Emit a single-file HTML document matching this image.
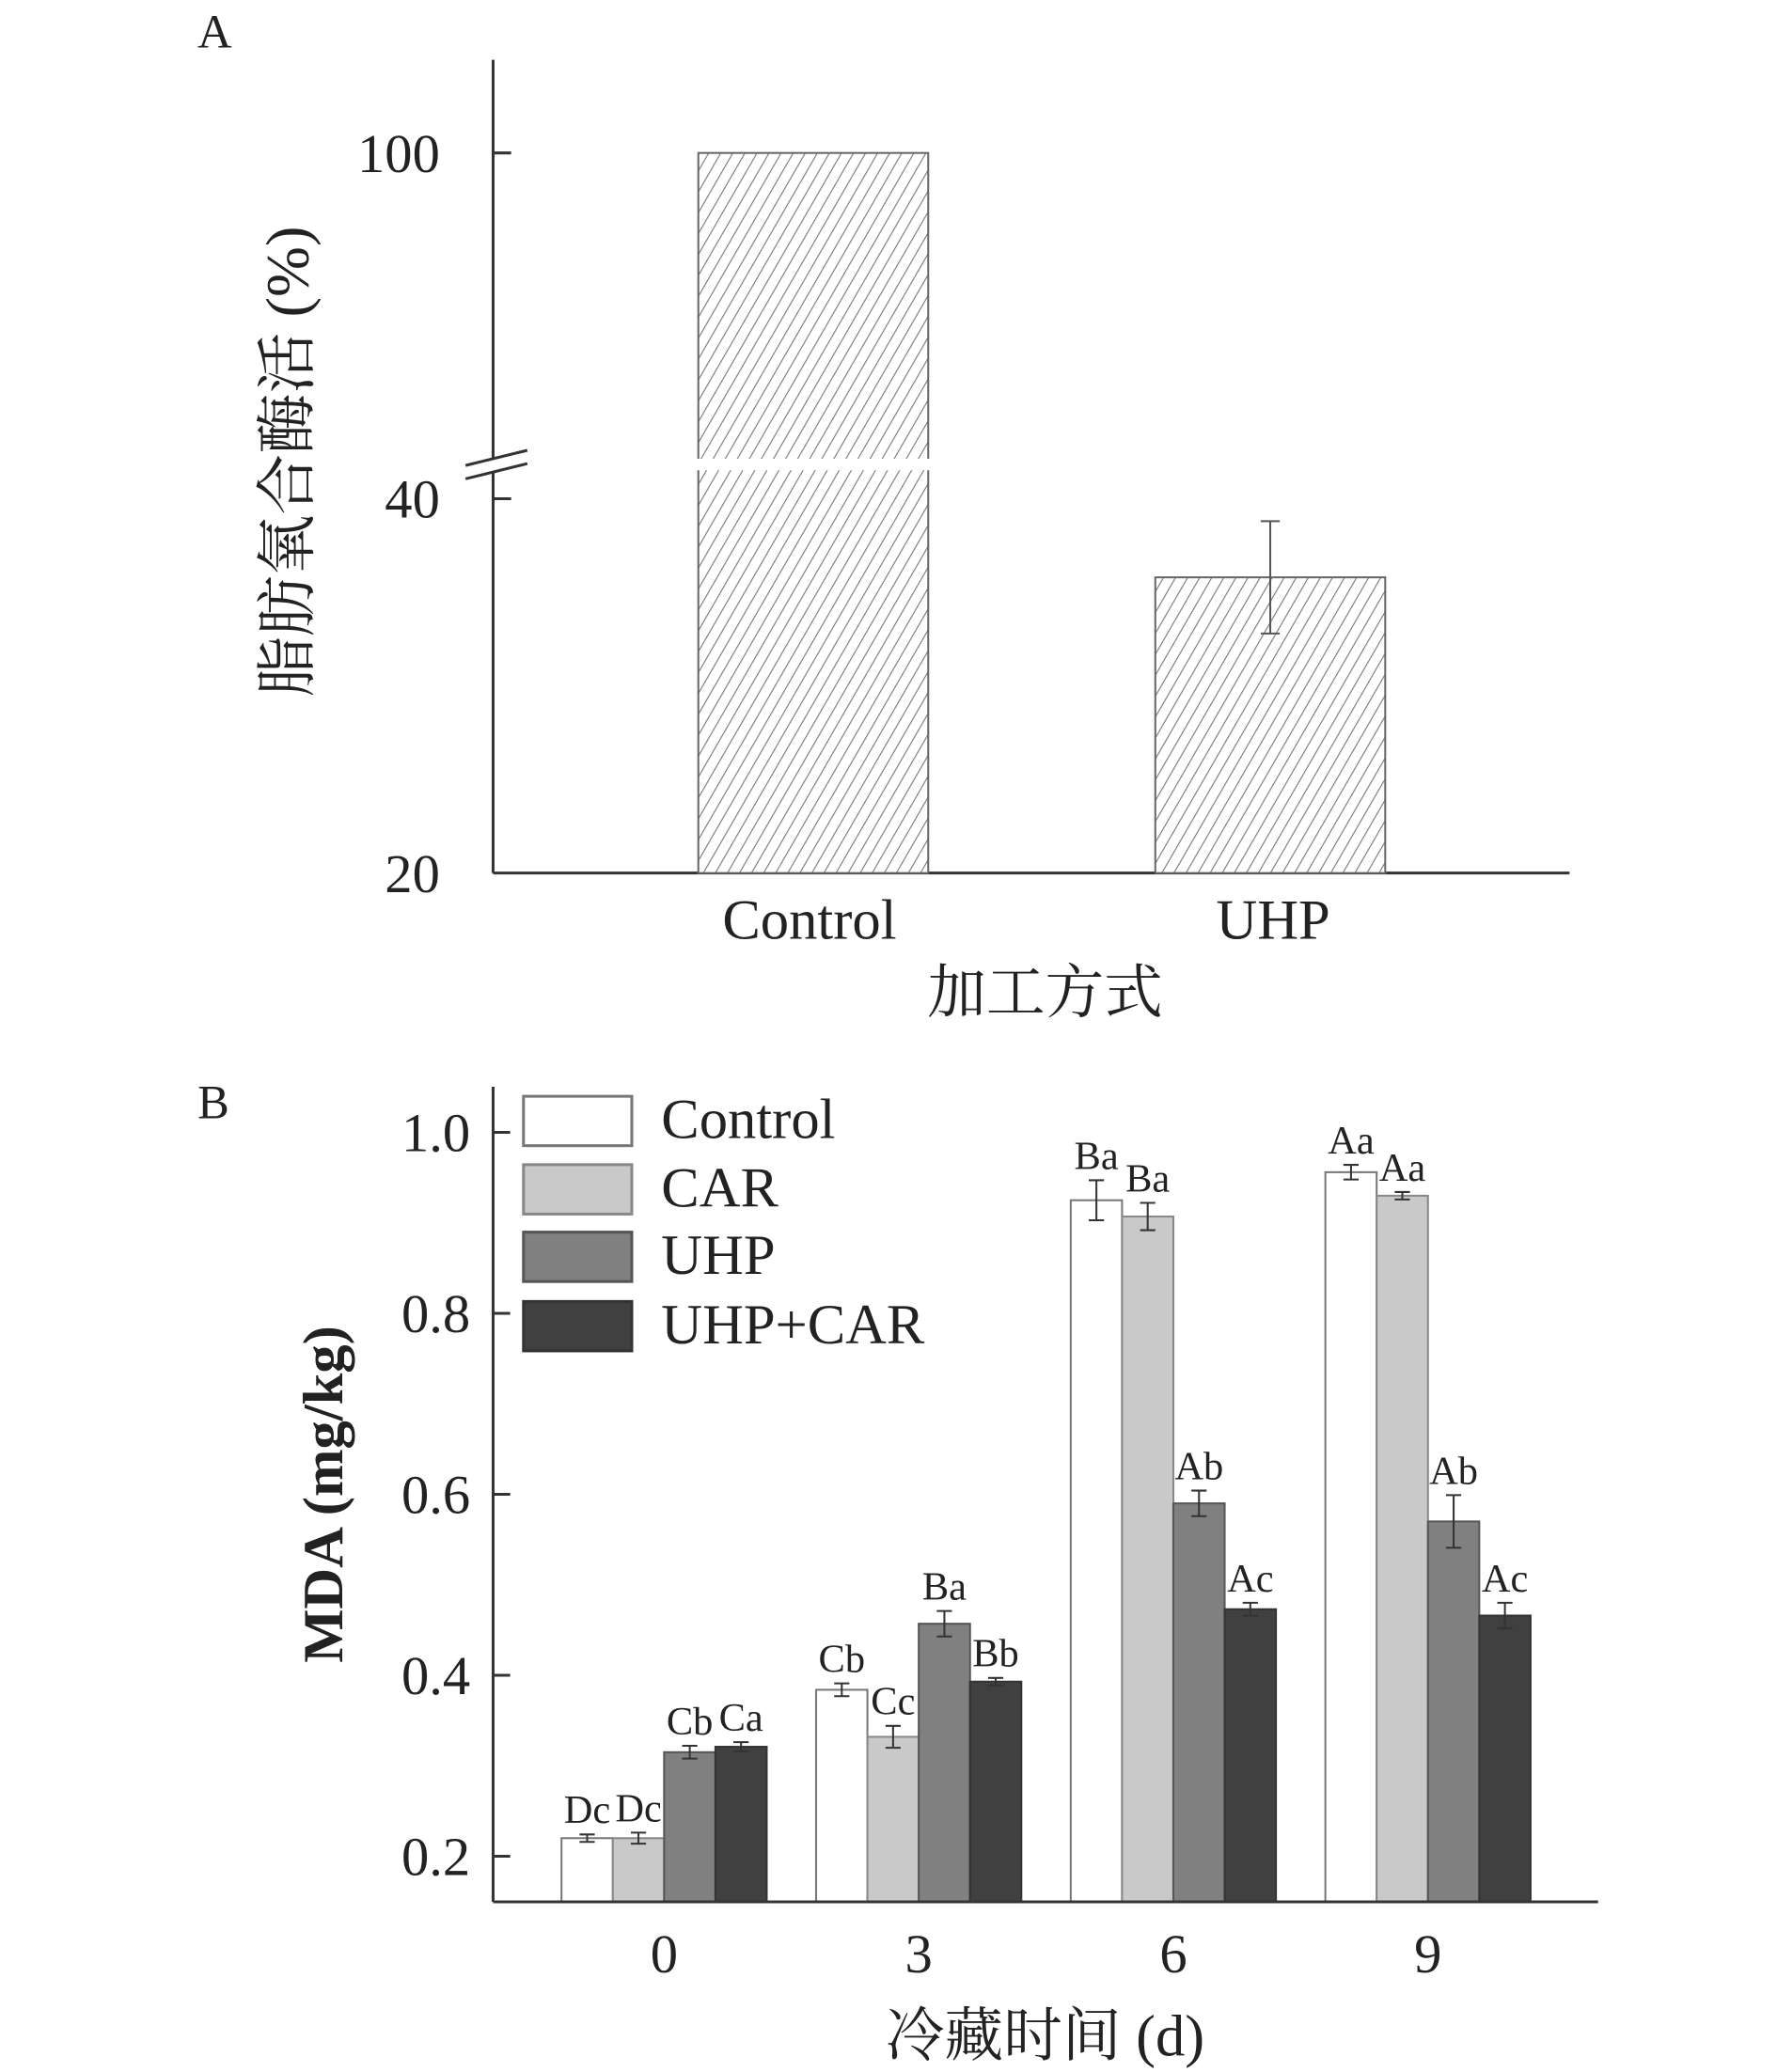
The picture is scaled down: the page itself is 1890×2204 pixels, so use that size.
<!DOCTYPE html>
<html><head><meta charset="utf-8"><style>
html,body{margin:0;padding:0;background:#fff}
svg{display:block}
text{font-family:"Liberation Serif","Noto Serif CJK SC","Noto Sans CJK SC",serif;fill:#222}
</style></head><body>
<svg id="chart" width="1890" height="2204" viewBox="0 0 1890 2204" xmlns="http://www.w3.org/2000/svg">
<defs>
<pattern id="hatch" patternUnits="userSpaceOnUse" width="11" height="11" patternTransform="rotate(30)">
<rect width="11" height="11" fill="#fff"/>
<line x1="0" y1="0" x2="0" y2="11" stroke="#777" stroke-width="2.2"/>
</pattern>
</defs>
<g transform="scale(1.0105)">
<g id="panelA"></g>
<g id="panelB"></g>
</g>
</svg>
<script>
// Panel A data
const aCategories = ["Control","UHP"];
const aValues = [100, 35.8];
const aErrors = [0, 3.0];
const aTicks = [20, 40, 100];
// Panel B data
const bCategories = ["0","3","6","9"];
const bSeriesNames = ["Control","CAR","UHP","UHP+CAR"];
const bControl = [0.220, 0.384, 0.925, 0.956];
const bCAR = [0.220, 0.332, 0.907, 0.930];
const bUHP = [0.315, 0.457, 0.590, 0.570];
const bUHPCAR = [0.321, 0.393, 0.473, 0.466];
const bErrControl = [0.002, 0.005, 0.020, 0.006];
const bErrCAR = [0.004, 0.010, 0.013, 0.002];
const bErrUHP = [0.005, 0.012, 0.012, 0.027];
const bErrUHPCAR = [0.003, 0.002, 0.005, 0.012];
const bLetters = [["Dc","Cb","Ba","Aa"],["Dc","Cc","Ba","Aa"],["Cb","Ba","Ab","Ab"],["Ca","Bb","Ac","Ac"]];
const bTicks = [0.2, 0.4, 0.6, 0.8, 1.0];

const NS="http://www.w3.org/2000/svg";
function mk(parent,tag,attrs,txt){const e=document.createElementNS(NS,tag);for(const k in attrs)e.setAttribute(k,attrs[k]);if(txt!==undefined)e.textContent=txt;parent.appendChild(e);return e;}

// ---------- Panel A ----------
const A=document.getElementById('panelA');
function yA(v){ if(v<=40) return 919-(v-20)*(919-525)/20; return 525-(v-40)*(525-161)/60; }
const axA=519, xEndA=1652;
let t=mk(A,'text',{x:208,y:50,'font-size':50},'A');


let l=mk(A,'line',{x1:axA,y1:63,x2:axA,y2:919,stroke:'#333','stroke-width':3});


l=mk(A,'line',{x1:axA,y1:919,x2:xEndA,y2:919,stroke:'#333','stroke-width':3});


aTicks.forEach(v=>{
  const y=yA(v);
  if(v!==20){const tk=mk(A,'line',{x1:axA,y1:y,x2:axA+19,y2:y,stroke:'#333','stroke-width':3});
  
  }
  const tl=mk(A,'text',{x:463,y:y+20,'font-size':58,'text-anchor':'end'},String(v));
  
  
});
const br=mk(A,'g',{});


mk(br,'rect',{x:axA-4,y:482,width:8,height:14,fill:'#fff'});
mk(br,'line',{x1:490,y1:490,x2:555,y2:474,stroke:'#333','stroke-width':3});
mk(br,'line',{x1:490,y1:504,x2:555,y2:488,stroke:'#333','stroke-width':3});
const aCenters=[856,1337], aW=242;
aCategories.forEach((c,i)=>{
  const x=aCenters[i]-aW/2, y=yA(aValues[i]);
  const r=mk(A,'rect',{x:x,y:y,width:aW,height:919-y,fill:'url(#hatch)',stroke:'#666','stroke-width':2});
  
  
  if(aValues[i]>40){
    const gap=mk(A,'rect',{x:x-2,y:yA(40)-42,width:aW+4,height:12,fill:'#fff'});
    
    
  }
  if(aErrors[i]>0){
    const eg=mk(A,'g',{stroke:'#555','stroke-width':2});
    
    
    const y1=yA(aValues[i]+aErrors[i]), y2=yA(aValues[i]-aErrors[i]);
    mk(eg,'line',{x1:aCenters[i],y1:y1,x2:aCenters[i],y2:y2});
    mk(eg,'line',{x1:aCenters[i]-10,y1:y1,x2:aCenters[i]+10,y2:y1});
    mk(eg,'line',{x1:aCenters[i]-10,y1:y2,x2:aCenters[i]+10,y2:y2});
  }
  const xl=mk(A,'text',{x:[852,1340][i],y:988,'font-size':60,'text-anchor':'middle'},c);
  
  
});
t=mk(A,'text',{x:1100,y:1066,'font-size':62,'text-anchor':'middle'},'加工方式');


t=mk(A,'text',{x:0,y:0,'font-size':64,'text-anchor':'middle',transform:'translate(324,486) rotate(-90)'},'脂肪氧合酶活 (%)');



// ---------- Panel B ----------
const B=document.getElementById('panelB');
function yB(v){return 1954-(v-0.2)*952.5;}
const axB=519, xEndB=1682, baseB=2002;
t=mk(B,'text',{x:208,y:1177,'font-size':50},'B');


const colors=['#ffffff','#c9c9c9','#808080','#404040'];
const strokes=['#777','#888','#555','#333'];
const series=[bControl,bCAR,bUHP,bUHPCAR];
const errs=[bErrControl,bErrCAR,bErrUHP,bErrUHPCAR];
const gCenters=bCategories.map((c,i)=>699+i*268);
const bw=54;
series.forEach((s,si)=>{
  s.forEach((v,gi)=>{
    const x=gCenters[gi]-2*bw+si*bw, y=yB(v);
    const r=mk(B,'rect',{x:x,y:y,width:bw,height:baseB-y,fill:colors[si],stroke:strokes[si],'stroke-width':2});
    
    
    const cx=x+bw/2, e=errs[si][gi];
    const eg=mk(B,'g',{stroke:'#333','stroke-width':2});
    
    
    mk(eg,'line',{x1:cx,y1:yB(v+e)-2,x2:cx,y2:yB(v-e)+2});
    mk(eg,'line',{x1:cx-8,y1:yB(v+e)-2,x2:cx+8,y2:yB(v+e)-2});
    mk(eg,'line',{x1:cx-8,y1:yB(v-e)+2,x2:cx+8,y2:yB(v-e)+2});
    const lt=mk(B,'text',{x:cx,y:yB(v+e)-14,'font-size':42,'text-anchor':'middle'},bLetters[si][gi]);
    
    
  });
});
l=mk(B,'line',{x1:axB,y1:1144,x2:axB,y2:baseB,stroke:'#333','stroke-width':3});


l=mk(B,'line',{x1:axB,y1:baseB,x2:xEndB,y2:baseB,stroke:'#333','stroke-width':3});


bTicks.forEach(v=>{
  const y=yB(v);
  const tk=mk(B,'line',{x1:axB,y1:y,x2:axB+18,y2:y,stroke:'#333','stroke-width':3});
  
  
  const tl=mk(B,'text',{x:495,y:y+20,'font-size':58,'text-anchor':'end'},v.toFixed(1));
  
  
});
bCategories.forEach((c,i)=>{
  const xl=mk(B,'text',{x:gCenters[i],y:2076,'font-size':58,'text-anchor':'middle'},c);
  
  
});
t=mk(B,'text',{x:1100,y:2164,'font-size':62,'text-anchor':'middle'},'冷藏时间 (d)');


t=mk(B,'text',{x:0,y:0,'font-size':60,'text-anchor':'middle','font-weight':'bold',transform:'translate(360,1573) rotate(-90)'},'MDA (mg/kg)');


const lg=mk(B,'g',{});


const legY=[1154,1226,1297,1370];
bSeriesNames.forEach((n,i)=>{
  const ent=mk(lg,'g',{});
  
  
  mk(ent,'rect',{x:551,y:legY[i],width:114,height:52,fill:colors[i],stroke:strokes[i],'stroke-width':3});
  mk(ent,'text',{x:696,y:legY[i]+44,'font-size':60},n);
});
</script>
</body></html>
